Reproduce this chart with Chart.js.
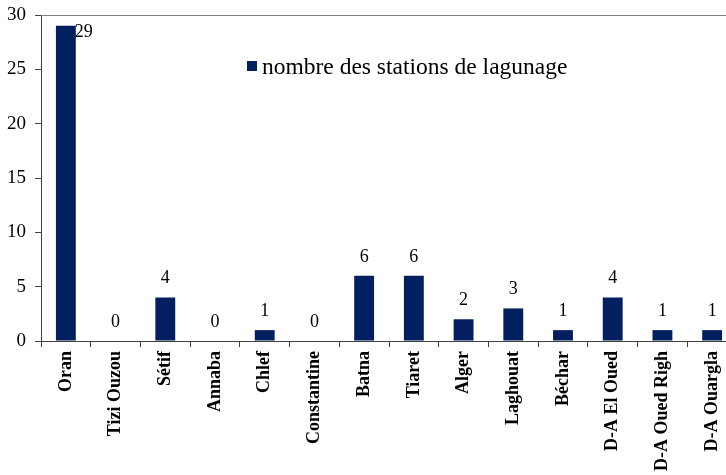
<!DOCTYPE html>
<html>
<head>
<meta charset="utf-8">
<script src="https://cdn.jsdelivr.net/npm/chart.js@4/dist/chart.umd.min.js"></script>
<style>
  html, body { margin: 0; padding: 0; background: #fff; overflow: hidden; }
  #wrap { width: 740px; height: 475px; }
</style>
</head>
<body>
<div id="wrap"><canvas id="chart" width="740" height="475"></canvas></div>
<script>
const regions = ['Oran', 'Tizi Ouzou', 'Sétif', 'Annaba', 'Chlef', 'Constantine', 'Batna',
  'Tiaret', 'Alger', 'Laghouat', 'Béchar', 'D-A El Oued', 'D-A Oued Righ', 'D-A Ouargla'];
const stations = [29, 0, 4, 0, 1, 0, 6, 6, 2, 3, 1, 4, 1, 1];
const seriesName = 'nombre des stations de lagunage';
const yTicks = [0, 5, 10, 15, 20, 25, 30];

const NAVY = '#02205f';
const SERIF = '"Liberation Serif", "Times New Roman", serif';

// value labels above bars, the tall one goes to the right of its top
const valueLabels = {
  id: 'valueLabels',
  afterDatasetsDraw(chart) {
    const ctx = chart.ctx;
    const meta = chart.getDatasetMeta(0);
    ctx.save();
    ctx.fillStyle = '#000';
    ctx.font = '18px ' + SERIF;
    ctx.textBaseline = 'middle';
    meta.data.forEach((bar, i) => {
      const v = stations[i];
      if (bar.y - 19 < chart.chartArea.top) {
        ctx.textAlign = 'left';
        ctx.fillText(String(v), bar.x + bar.width / 2 - 1, bar.y + 6);
      } else {
        ctx.textAlign = 'center';
        ctx.fillText(String(v), bar.x, bar.y - 19);
      }
    });
    ctx.restore();
  }
};

// top frame line + legend inside plot
const frameLegend = {
  id: 'frameLegend',
  afterDraw(chart) {
    const ctx = chart.ctx;
    const a = chart.chartArea;
    ctx.save();
    ctx.strokeStyle = '#7f7f7f';
    ctx.lineWidth = 1;
    ctx.beginPath();
    ctx.moveTo(a.left, a.top + 0.5);
    ctx.lineTo(a.right, a.top + 0.5);
    ctx.stroke();

    ctx.fillStyle = NAVY;
    ctx.fillRect(247, 61, 10, 10);
    ctx.fillStyle = '#000';
    ctx.font = '23.5px ' + SERIF;
    ctx.textAlign = 'left';
    ctx.textBaseline = 'middle';
    ctx.fillText(seriesName, 262, 68);
    ctx.restore();
  }
};

function draw() {
  new Chart(document.getElementById('chart'), {
    type: 'bar',
    data: {
      labels: regions,
      datasets: [{
        label: seriesName,
        data: stations,
        backgroundColor: NAVY,
        barPercentage: 0.4,
        categoryPercentage: 1.0
      }]
    },
    options: {
      responsive: false,
      animation: false,
      layout: { padding: { top: 15, right: 3, left: 0, bottom: 0 } },
      plugins: {
        legend: { display: false },
        tooltip: { enabled: false }
      },
      scales: {
        x: {
          grid: { offset: true, drawOnChartArea: false, tickLength: 6, color: '#404040' },
          border: { color: '#404040', width: 1 },
          ticks: {
            color: '#000',
            font: { family: SERIF, size: 18, weight: 'bold' },
            minRotation: 90,
            maxRotation: 90,
            padding: 4,
            autoSkip: false
          },
          afterFit(scale) { scale.height = 134; }
        },
        y: {
          min: 0,
          max: 30,
          afterBuildTicks(scale) { scale.ticks = yTicks.map(v => ({ value: v })); },
          grid: { drawOnChartArea: false, tickLength: 6, color: '#404040' },
          border: { color: '#404040', width: 1 },
          ticks: {
            color: '#000',
            font: { family: SERIF, size: 19, lineHeight: 1 },
            padding: 9
          },
          afterFit(scale) {
            scale.width = 41;
            scale.paddingTop = 0;
            scale.paddingBottom = 0;
          }
        }
      }
    },
    plugins: [valueLabels, frameLegend]
  });
}

document.fonts.load('bold 18px "Liberation Serif"').then(draw, draw);
</script>
</body>
</html>
